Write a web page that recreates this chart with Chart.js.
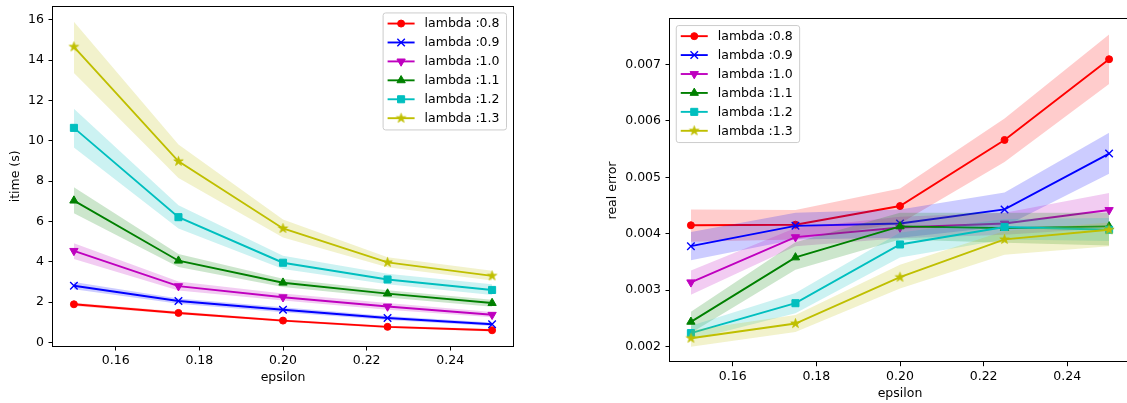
<!DOCTYPE html>
<html><head><meta charset="utf-8">
<script src="https://cdn.jsdelivr.net/npm/chart.js@4.4.1/dist/chart.umd.min.js"></script>
<style>
html,body{margin:0;padding:0;background:#fff;overflow:hidden;width:1127px;height:403px;}
#c1{position:absolute;left:0;top:0;}
#c2{position:absolute;left:560px;top:0;}
</style></head><body>
<canvas id="c1" width="560" height="403" style="width:560px;height:403px"></canvas>
<canvas id="c2" width="580" height="403" style="width:580px;height:403px"></canvas>
<script>
// ---------- data ----------
const epsilon = [0.15, 0.175, 0.2, 0.225, 0.25];
const lambdaLabels = ['lambda :0.8', 'lambda :0.9', 'lambda :1.0', 'lambda :1.1', 'lambda :1.2', 'lambda :1.3'];
const xTicks = [0.16, 0.18, 0.20, 0.22, 0.24];
const timeTicks = [0, 2, 4, 6, 8, 10, 12, 14, 16];
const errorTicks = [0.002, 0.003, 0.004, 0.005, 0.006, 0.007];

// time (s): mean / upper / lower
const time08 = [1.89, 1.46, 1.08, 0.77, 0.60];
const time08Hi = [1.97, 1.53, 1.14, 0.83, 0.66];
const time08Lo = [1.81, 1.39, 1.02, 0.71, 0.54];
const time09 = [2.81, 2.05, 1.62, 1.21, 0.90];
const time09Hi = [2.99, 2.18, 1.74, 1.31, 0.99];
const time09Lo = [2.63, 1.92, 1.50, 1.11, 0.81];
const time10 = [4.54, 2.79, 2.24, 1.78, 1.37];
const time10Hi = [4.92, 3.02, 2.42, 1.95, 1.51];
const time10Lo = [4.13, 2.57, 2.08, 1.62, 1.24];
const time11 = [7.03, 4.05, 2.96, 2.42, 1.95];
const time11Hi = [7.69, 4.38, 3.15, 2.58, 2.12];
const time11Lo = [6.40, 3.74, 2.75, 2.22, 1.77];
const time12 = [10.64, 6.21, 3.95, 3.12, 2.60];
const time12Hi = [11.59, 6.80, 4.30, 3.40, 2.88];
const time12Lo = [9.67, 5.65, 3.64, 2.88, 2.35];
const time13 = [14.66, 8.98, 5.65, 3.97, 3.30];
const time13Hi = [15.90, 9.82, 6.10, 4.22, 3.55];
const time13Lo = [13.36, 8.15, 5.20, 3.72, 3.07];

// real error: mean / upper / lower
const err08 = [0.00415, 0.00416, 0.00449, 0.00566, 0.00709];
const err08Hi = [0.00443, 0.00442, 0.00480, 0.00604, 0.00753];
const err08Lo = [0.00386, 0.00390, 0.00418, 0.00527, 0.00665];
const err09 = [0.00378, 0.00414, 0.00418, 0.00443, 0.00542];
const err09Hi = [0.00403, 0.00437, 0.00443, 0.00473, 0.00579];
const err09Lo = [0.00353, 0.00390, 0.00393, 0.00413, 0.00506];
const err10 = [0.00314, 0.00394, 0.00411, 0.00418, 0.00442];
const err10Hi = [0.00335, 0.00410, 0.00430, 0.00437, 0.00472];
const err10Lo = [0.00292, 0.00378, 0.00392, 0.00398, 0.00410];
const err11 = [0.00244, 0.00358, 0.00413, 0.00410, 0.00413];
const err11Hi = [0.00262, 0.00385, 0.00437, 0.00437, 0.00437];
const err11Lo = [0.00224, 0.00336, 0.00390, 0.00384, 0.00379];
const err12 = [0.00224, 0.00277, 0.00381, 0.00412, 0.00407];
const err12Hi = [0.00237, 0.00295, 0.00402, 0.00426, 0.00428];
const err12Lo = [0.00212, 0.00259, 0.00358, 0.00390, 0.00387];
const err13 = [0.00215, 0.00241, 0.00323, 0.00390, 0.00407];
const err13Hi = [0.00229, 0.00256, 0.00345, 0.00405, 0.00420];
const err13Lo = [0.00200, 0.00226, 0.00303, 0.00363, 0.00378];

// ---------- styles ----------
const FONT_FAMILY = '"DejaVu Sans", sans-serif';
const FS = 12.5;
const COLORS = ['#ff0000', '#0000ff', '#bf00bf', '#008000', '#00bfbf', '#bfbf00'];
const BANDS = ['rgba(255,0,0,0.2)', 'rgba(0,0,255,0.2)', 'rgba(191,0,191,0.2)', 'rgba(0,128,0,0.2)', 'rgba(0,191,191,0.2)', 'rgba(191,191,0,0.2)'];

function starCanvas(color) {
  const s = 13, c = document.createElement('canvas');
  c.width = s; c.height = s;
  const g = c.getContext('2d');
  const R = 5.0, r = R * 0.382;
  g.beginPath();
  for (let i = 0; i < 10; i++) {
    const a = -Math.PI / 2 + i * Math.PI / 5;
    const rr = i % 2 ? r : R;
    g.lineTo(s / 2 + rr * Math.cos(a), s / 2 + rr * Math.sin(a));
  }
  g.closePath();
  g.fillStyle = color; g.fill();
  g.strokeStyle = color; g.lineWidth = 0.8; g.stroke();
  return c;
}
const STAR = starCanvas(COLORS[5]);
const MARKERS = [
  {style: 'circle', radius: 3.5, rotation: 0, bw: 1},
  {style: 'crossRot', radius: 5.3, rotation: 0, bw: 1.4},
  {style: 'triangle', radius: 4.8, rotation: 180, bw: 1},
  {style: 'triangle', radius: 4.8, rotation: 0, bw: 1},
  {style: 'rect', radius: 5.0, rotation: 0, bw: 1},
  {style: STAR, radius: 5, rotation: 0, bw: 0}
];

function drawMarker(ctx, i, x, y) {
  const m = MARKERS[i], c = COLORS[i];
  ctx.save();
  ctx.fillStyle = c; ctx.strokeStyle = c; ctx.lineWidth = m.bw;
  const r = m.radius;
  if (m.style === 'circle') {
    ctx.beginPath(); ctx.arc(x, y, r, 0, Math.PI * 2); ctx.fill(); ctx.stroke();
  } else if (m.style === 'crossRot') {
    const o = r * Math.SQRT1_2;
    ctx.beginPath(); ctx.moveTo(x - o, y - o); ctx.lineTo(x + o, y + o);
    ctx.moveTo(x - o, y + o); ctx.lineTo(x + o, y - o); ctx.stroke();
  } else if (m.style === 'triangle') {
    let rad = m.rotation * Math.PI / 180;
    ctx.beginPath();
    for (let k = 0; k < 3; k++) {
      ctx.lineTo(x + Math.sin(rad) * r, y - Math.cos(rad) * r);
      rad += 2 * Math.PI / 3;
    }
    ctx.closePath(); ctx.fill(); ctx.stroke();
  } else if (m.style === 'rect') {
    const h = r * Math.SQRT1_2;
    ctx.beginPath(); ctx.rect(x - h, y - h, 2 * h, 2 * h); ctx.fill(); ctx.stroke();
  } else {
    ctx.drawImage(m.style, x - m.style.width / 2, y - m.style.height / 2);
  }
  ctx.restore();
}

function pts(arr) { return epsilon.map((x, j) => ({x: x, y: arr[j]})); }

function buildDatasets(means, his, los) {
  const ds = [];
  means.forEach((m, i) => {
    ds.push({label: '_hi' + i, data: pts(his[i]), borderWidth: 0, borderColor: 'rgba(0,0,0,0)', pointRadius: 0, fill: false});
    ds.push({label: '_lo' + i, data: pts(los[i]), borderWidth: 0, borderColor: 'rgba(0,0,0,0)', pointRadius: 0, fill: '-1', backgroundColor: BANDS[i]});
    const mk = MARKERS[i];
    ds.push({label: lambdaLabels[i], data: pts(m), borderColor: COLORS[i], backgroundColor: COLORS[i], borderWidth: 1.9,
      pointStyle: mk.style, pointRadius: mk.radius, pointRotation: mk.rotation, pointBorderWidth: mk.bw,
      pointBackgroundColor: COLORS[i], pointBorderColor: COLORS[i], fill: false});
  });
  ds.forEach((d, k) => { d.order = ds.length - k; d.tension = 0; });
  return ds;
}

function legendPlugin(anchor) {
  return {
    id: 'boxLegend',
    afterDraw(chart) {
      const ctx = chart.ctx, ca = chart.chartArea;
      ctx.save();
      ctx.font = FS + 'px ' + FONT_FAMILY;
      const items = chart.data.datasets.map((d, k) => ({d, k})).filter(o => !o.d.label.startsWith('_'));
      const tw = Math.max(...items.map(o => ctx.measureText(o.d.label).width));
      const padL = 4.5, handle = 27, gap = 10, padR = 7, rowH = 18.93;
      const w = padL + handle + gap + tw + padR;
      const h = 117;
      const x0 = anchor === 'right' ? ca.right - 6.5 - w : ca.left + 6.25;
      const y0 = ca.top + 6.25;
      const rr = 2.5;
      ctx.beginPath();
      ctx.moveTo(x0 + rr, y0); ctx.lineTo(x0 + w - rr, y0); ctx.arcTo(x0 + w, y0, x0 + w, y0 + rr, rr);
      ctx.lineTo(x0 + w, y0 + h - rr); ctx.arcTo(x0 + w, y0 + h, x0 + w - rr, y0 + h, rr);
      ctx.lineTo(x0 + rr, y0 + h); ctx.arcTo(x0, y0 + h, x0, y0 + h - rr, rr);
      ctx.lineTo(x0, y0 + rr); ctx.arcTo(x0, y0, x0 + rr, y0, rr); ctx.closePath();
      ctx.fillStyle = 'rgba(255,255,255,0.8)'; ctx.fill();
      ctx.strokeStyle = '#cccccc'; ctx.lineWidth = 1; ctx.stroke();
      items.forEach((o, i) => {
        const yc = y0 + 10.6 + i * rowH;
        ctx.strokeStyle = COLORS[i]; ctx.lineWidth = 1.9;
        ctx.beginPath(); ctx.moveTo(x0 + padL, yc); ctx.lineTo(x0 + padL + handle, yc); ctx.stroke();
        drawMarker(ctx, i, x0 + padL + handle / 2, yc);
        ctx.fillStyle = '#000'; ctx.textBaseline = 'middle'; ctx.textAlign = 'left';
        ctx.font = FS + 'px ' + FONT_FAMILY;
        ctx.fillText(o.d.label, x0 + padL + handle + gap, yc + 0.5);
      });
      ctx.restore();
    }
  };
}

const framePlugin = {
  id: 'frame',
  afterDatasetsDraw(chart) {
    const ctx = chart.ctx, ca = chart.chartArea;
    ctx.save();
    ctx.strokeStyle = '#000'; ctx.lineWidth = 1;
    ctx.strokeRect(Math.round(ca.left) - 0.5, Math.round(ca.top) - 0.5, Math.round(ca.right - ca.left) + 1, Math.round(ca.bottom - ca.top) + 1);
    ctx.restore();
  }
};

function makeChart(id, datasets, cfg) {
  const font = {family: FONT_FAMILY, size: FS};
  return new Chart(document.getElementById(id), {
    type: 'line',
    data: {datasets},
    options: {
      responsive: false, animation: false, devicePixelRatio: 1, events: [],
      layout: {padding: cfg.padding},
      plugins: {legend: {display: false}, tooltip: {enabled: false}},
      scales: {
        x: {
          type: 'linear', min: 0.145, max: 0.255, bounds: 'data',
          afterBuildTicks: s => { s.ticks = xTicks.map(v => ({value: v})); },
          ticks: {callback: v => v.toFixed(2), font, color: '#000', padding: 3, maxRotation: 0, autoSkip: false},
          grid: {display: true, drawOnChartArea: false, drawTicks: true, tickLength: 4.5, tickColor: '#000', tickWidth: 1},
          border: {display: false},
          title: {display: true, text: 'epsilon', font, color: '#000', padding: {top: 0, bottom: cfg.xTitlePad}},
          afterFit: s => { s.height = cfg.xHeight; s.paddingLeft = 0; s.paddingRight = 0; }
        },
        y: {
          type: 'linear', min: cfg.yMin, max: cfg.yMax, bounds: 'data',
          afterBuildTicks: s => { s.ticks = cfg.yTicks.map(v => ({value: v})); },
          ticks: {callback: cfg.yFmt, font, color: '#000', padding: 4.5, autoSkip: false},
          grid: {display: true, drawOnChartArea: false, drawTicks: true, tickLength: 4.5, tickColor: '#000', tickWidth: 1},
          border: {display: false},
          title: {display: true, text: cfg.yTitle, font, color: '#000', padding: {top: cfg.yTitlePad, bottom: 0}},
          afterFit: s => { s.width = cfg.yWidth; s.paddingTop = 0; s.paddingBottom = 0; }
        }
      }
    },
    plugins: [framePlugin, legendPlugin(cfg.legend)]
  });
}

makeChart('c1',
  buildDatasets([time08, time09, time10, time11, time12, time13],
                [time08Hi, time09Hi, time10Hi, time11Hi, time12Hi, time13Hi],
                [time08Lo, time09Lo, time10Lo, time11Lo, time12Lo, time13Lo]),
  {padding: {top: 4, right: 47, left: 0, bottom: 0}, xHeight: 57, yWidth: 53, xTitlePad: 18, yTitlePad: 8,
   yMin: -0.18, yMax: 16.65, yTicks: timeTicks, yFmt: v => String(v), yTitle: 'itime (s)', legend: 'right'});

makeChart('c2',
  buildDatasets([err08, err09, err10, err11, err12, err13],
                [err08Hi, err09Hi, err10Hi, err11Hi, err12Hi, err13Hi],
                [err08Lo, err09Lo, err10Lo, err11Lo, err12Lo, err13Lo]),
  {padding: {top: 19.3, right: 10, left: 0, bottom: 0}, xHeight: 41.3, yWidth: 110, xTitlePad: 1.5, yTitlePad: 45,
   yMin: 0.001734, yMax: 0.007797, yTicks: errorTicks, yFmt: v => v.toFixed(3), yTitle: 'real error', legend: 'left'});
</script>
</body></html>
